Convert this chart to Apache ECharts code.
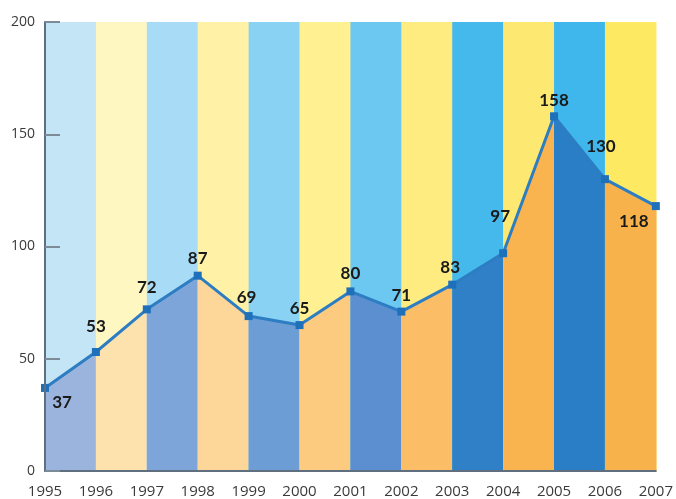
<!DOCTYPE html>
<html><head><meta charset="utf-8">
<script src="https://cdn.jsdelivr.net/npm/echarts@6/dist/echarts.min.js"></script>
<style>html,body{margin:0;padding:0;background:#fff}#c{width:676px;height:499px}</style>
</head><body><div id="c"></div>
<script>
const years = [1995,1996,1997,1998,1999,2000,2001,2002,2003,2004,2005,2006,2007];
const values = [37,53,72,87,69,65,80,71,83,97,158,130,118];
const yTicks = [0,50,100,150,200];

const upperColors = ['#c4e5f6','#fff7c2','#a8dcf6','#fff2a6','#8ad2f3','#fff092','#6cc7f1','#feec80','#45b8ec','#fde871','#3fb6ec','#fde962'];
const lowerColors = ['#9bb4de','#fde2ad','#7ea5da','#fdd699','#6d9dd5','#fccb80','#5b8fcf','#fbbe66','#2f80c6','#f9b450','#2a7ec5','#f8b24c'];
const labelOffsets = [[17,15],[0,-25],[0,-22],[0,-17],[-2,-19],[0,-17],[0,-18],[0,-16],[-2,-17],[-3,-37],[0,-16],[-4,-33],[-22,15]];

const stripes = [];
for (let i = 0; i < years.length - 1; i++) stripes.push([years[i], years[i+1], values[i], values[i+1]]);

const chart = echarts.init(document.getElementById('c'));
chart.setOption({
  animation: false,
  grid: {left: 45, right: 14, top: 22, bottom: 27},
  xAxis: {
    type: 'value', min: 1995, max: 2007, interval: 1, z: 10,
    axisLine: {show: true, lineStyle: {color: '#5f6f80', width: 2}},
    axisTick: {show: false},
    splitLine: {show: false},
    axisLabel: {formatter: v => String(v), color: '#3a3a3a', fontSize: 15, fontFamily: 'Open Sans', margin: 13}
  },
  yAxis: {
    type: 'value', min: yTicks[0], max: yTicks[yTicks.length-1], interval: 50, z: 10,
    axisLine: {show: true, lineStyle: {color: '#5f6f80', width: 2}},
    axisTick: {show: true, inside: true, length: 15, lineStyle: {color: '#7d8b98', width: 2}},
    splitLine: {show: false},
    axisLabel: {color: '#3a3a3a', fontSize: 14, fontFamily: 'Open Sans', margin: 10}
  },
  series: [
    {
      type: 'custom', silent: true, z: 1,
      data: stripes,
      encode: {x: [0,1], y: [2,3]},
      renderItem: function(params, api) {
        const i = params.dataIndex;
        const x0 = api.value(0), x1 = api.value(1), v0 = api.value(2), v1 = api.value(3);
        const b0 = api.coord([x0, 0]), t0 = api.coord([x0, 200]), t1 = api.coord([x1, 200]), b1 = api.coord([x1, 0]);
        const a = api.coord([x0, v0]), b = api.coord([x1, v1]);
        return {type: 'group', children: [
          {type: 'rect', shape: {x: t0[0], y: t0[1], width: t1[0]-t0[0] + 0.6, height: b0[1]-t0[1]}, style: {fill: upperColors[i]}},
          {type: 'polygon', shape: {points: [[b0[0], b0[1]], [a[0], a[1]], [b[0]+0.6, b[1]], [b1[0]+0.6, b1[1]]]}, style: {fill: lowerColors[i]}}
        ]};
      }
    },
    {
      type: 'line', z: 5,
      data: years.map((y, i) => ({
        value: [y, values[i]],
        label: {offset: labelOffsets[i]}
      })),
      symbol: 'rect', symbolSize: 8,
      itemStyle: {color: '#1f70ba'},
      lineStyle: {color: '#2d7dc3', width: 3},
      label: {show: true, position: 'inside', formatter: p => String(p.value[1]), color: '#1a1a1a', fontSize: 17, fontWeight: 'bold', fontFamily: 'Lato'}
    }
  ]
});
</script></body></html>
